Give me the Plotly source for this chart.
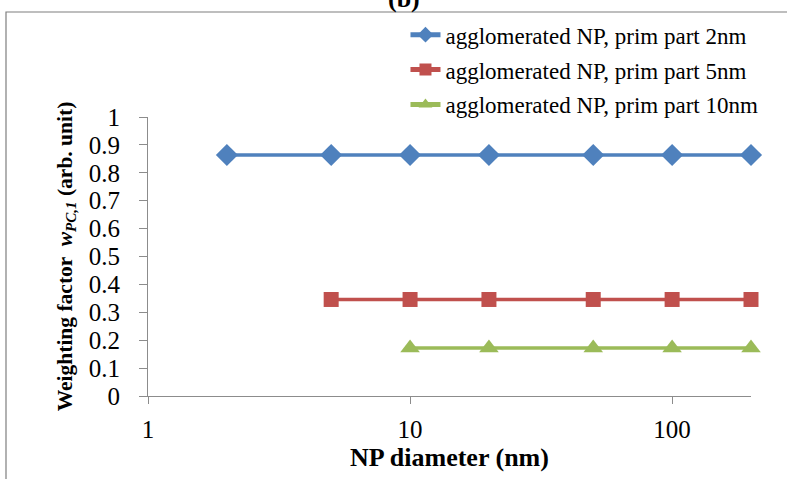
import plotly.graph_objects as go

# NP diameters (nm) and weighting factors per primary particle size
d_2nm = [2, 5, 10, 20, 50, 100, 200]
w_2nm = [0.864, 0.864, 0.864, 0.864, 0.864, 0.864, 0.864]
d_5nm = [5, 10, 20, 50, 100, 200]
w_5nm = [0.346, 0.346, 0.346, 0.346, 0.346, 0.346]
d_10nm = [10, 20, 50, 100, 200]
w_10nm = [0.172, 0.172, 0.172, 0.172, 0.172]

names = ["agglomerated NP, prim part 2nm",
         "agglomerated NP, prim part 5nm",
         "agglomerated NP, prim part 10nm"]
colors = ["#4F81BD", "#C0504D", "#9BBB59"]
symbols = ["diamond", "square", "triangle-up"]
sizes = [17, 15, 17]
x_ticks = [1, 10, 100]
y_ticks = [round(0.1 * i, 1) for i in range(11)]

SERIF = "Liberation Serif, Times New Roman, serif"

fig = go.Figure()
for xs, ys, name, c, s, sz in zip([d_2nm, d_5nm, d_10nm], [w_2nm, w_5nm, w_10nm],
                                  names, colors, symbols, sizes):
    fig.add_trace(go.Scatter(
        x=xs, y=ys, name=name, mode="lines+markers",
        line=dict(color=c, width=3.5),
        marker=dict(symbol=s, size=sz, color=c),
        legendgroup=name, cliponaxis=False,
    ))

fig.update_layout(
    width=787, height=479,
    margin=dict(l=148, r=36, t=117, b=83),
    paper_bgcolor="white", plot_bgcolor="white",
    font=dict(family=SERIF, color="black"),
    showlegend=True,
    legend=dict(x=0.427, y=1.372, xanchor="left", yanchor="top",
                font=dict(size=23, family=SERIF),
                bgcolor="rgba(0,0,0,0)", tracegroupgap=2,
                traceorder="grouped", itemsizing="constant"),
)

fig.update_xaxes(
    type="log", range=[0, 2.30103],
    tickvals=x_ticks, ticktext=[str(v) for v in x_ticks],
    showgrid=False, zeroline=False,
    showline=True, linecolor="#8c8c8c", linewidth=1,
    ticks="outside", ticklen=7, tickcolor="#8c8c8c",
    ticklabelstandoff=4,
    tickfont=dict(size=25, family=SERIF),
    title=dict(text="<b>NP diameter (nm)</b>", font=dict(size=26, family=SERIF),
               standoff=2),
)
fig.update_yaxes(
    range=[0, 1], tickvals=y_ticks, ticktext=[f"{v:g}" for v in y_ticks],
    showgrid=False, zeroline=False,
    showline=True, linecolor="#8c8c8c", linewidth=1,
    ticks="outside", ticklen=8, tickcolor="#8c8c8c",
    ticklabelstandoff=14,
    tickfont=dict(size=25, family=SERIF),
    title=dict(text="<b>Weighting factor  <i>w</i><sub><i>PC,1</i></sub> (arb. unit)</b>",
               font=dict(size=21.5, family=SERIF), standoff=10),
)

# outer frame around the chart
fig.add_shape(type="rect", xref="paper", yref="paper",
              x0=(6 - 148) / 603, x1=2, y0=-1, y1=(396 - 12) / 279,
              line=dict(color="#7f7f7f", width=1.2), fillcolor="rgba(0,0,0,0)")

# panel label
fig.add_annotation(text="<b>(b)</b>", xref="paper", yref="paper",
                   x=(404 - 148) / 603, y=(396 + 2) / 279,
                   xanchor="center", yanchor="middle", showarrow=False,
                   font=dict(size=26, family=SERIF))

fig.write_html("out.html")
